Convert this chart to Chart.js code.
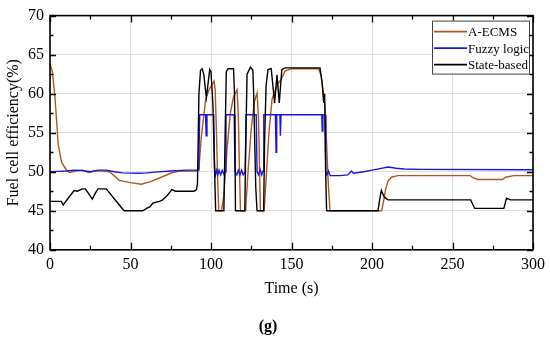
<!DOCTYPE html>
<html>
<head>
<meta charset="utf-8">
<script src="https://cdn.jsdelivr.net/npm/chart.js@4.4.1/dist/chart.umd.min.js"></script>
<style>
  html, body { margin: 0; padding: 0; background: #fff; }
  #wrap { width: 550px; height: 342px; }
</style>
</head>
<body>
<div id="wrap"><canvas id="effChart" width="550" height="342"></canvas></div>
<script>
// series labels
const seriesNames = ['A-ECMS', 'Fuzzy logic', 'State-based'];

// A-ECMS (time s, efficiency %)
const ecmsT = [0, 1.5, 3.1, 5.1, 7.2, 10.3, 12, 16, 20, 24, 28, 32, 37, 43, 50, 56.6, 62, 68, 76, 80, 91,
  92.5, 94, 96.7, 99, 101.9, 102.6, 103.4, 104.2, 104.8, 106.5, 108, 110, 112, 114, 116.2, 117, 117.7, 118.3,
  121.5, 123, 125, 127, 128.6, 129.5, 130.2, 130.7, 133, 134.5, 136, 137.9, 140, 142, 144, 146, 150, 167,
  168.5, 170.8, 172.8, 173.9, 206, 207, 208.5, 210, 212, 216, 261, 263, 266, 281, 283, 288, 300];
const ecmsV = [63.8, 62.8, 59.5, 53.5, 51.2, 50.2, 49.9, 50.1, 50.2, 49.9, 50.1, 50.1, 50, 48.9, 48.6, 48.4, 48.7, 49.2, 49.9, 50.05, 50.1,
  50.5, 54.5, 59.3, 60.6, 61.6, 60.5, 55, 48.5, 45, 45, 47, 53, 57.5, 59.6, 60.5, 57, 50, 45,
  45, 50, 55.5, 59, 60.1, 57, 50, 45, 45, 50, 55, 59.3, 60.5, 61.4, 62, 62.9, 63.2, 63.2,
  62.2, 58.4, 48.7, 45, 45, 46, 47.8, 48.8, 49.3, 49.5, 49.5, 49.2, 49.0, 49.0, 49.3, 49.5, 49.5];

// Fuzzy logic
const fuzzyT = [0, 5, 10, 15, 20, 25, 30, 35, 40, 45, 55, 60, 65, 75, 85, 92, 92.5, 93, 96.6, 97, 97.5, 101.7,
  102.2, 102.8, 103.5, 104.2, 105, 106, 107, 108, 108.8, 109.3, 114.4, 114.9, 116, 117, 118, 119, 120, 121.2,
  121.8, 128.1, 128.6, 129.5, 130.5, 131.5, 132.3, 132.8, 140, 140.4, 140.8, 142.8, 143.1, 143.5, 168.8,
  169.1, 169.5, 170.9, 171.3, 172, 173, 174, 180, 185, 187.2, 188.5, 195, 200, 205, 210, 215, 220, 230, 300];
const fuzzyV = [50, 50.05, 50.1, 50.2, 50.15, 50, 50.2, 50.2, 50, 49.85, 49.8, 49.85, 49.95, 50.1, 50.2, 50.2, 52, 57.3, 57.3, 54.6, 57.3, 57.3,
  50.5, 49.6, 50.2, 49.6, 50.2, 49.6, 50.2, 49.7, 50, 57.3, 57.3, 50, 49.6, 50.2, 49.6, 50.2, 49.6, 50,
  57.3, 57.3, 50, 49.6, 50.3, 49.6, 50.1, 57.3, 57.3, 52.5, 57.3, 57.3, 54.6, 57.3, 57.3,
  55.2, 57.3, 57.3, 50, 49.6, 50.1, 49.5, 49.5, 49.6, 50.1, 49.8, 50, 50.2, 50.4, 50.6, 50.45, 50.35, 50.3, 50.25];

// State-based
const stateT = [0, 7, 8.2, 12, 15, 17, 20, 22, 24, 26.3, 28, 29.8, 35, 40, 46, 57.6, 60, 62, 64, 68, 70, 73, 75.7, 78, 89.5,
  91, 91.6, 92.5, 93.5, 94.5, 95.5, 97.1, 98, 99.2, 100, 101.2, 102, 102.9, 108, 108.8, 109.5, 110.5, 114, 114.6, 115.2,
  121, 121.7, 122.4, 124.5, 126, 126.5, 127.8, 128.6, 132.7, 133.3, 134.2, 135.4, 137.4, 139.5, 141, 142.4, 144, 146,
  167.7, 169, 170, 170.6, 171.2, 171.8, 203.7, 204.8, 205.8, 207.5, 209.9, 261.3, 263.8, 281.9, 283.5, 286, 300];
const stateV = [46.2, 46.2, 45.75, 46.8, 47.6, 47.5, 47.8, 47.8, 47.2, 46.5, 47.2, 47.8, 47.8, 46.5, 45, 45, 45.3, 45.5, 46, 46.2, 46.4, 47, 47.7, 47.5, 47.5,
  47.7, 48.5, 60, 63, 63.2, 62.5, 59.5, 61, 63.1, 62.8, 58.5, 52, 45, 45, 55, 62.8, 63.2, 63.2, 60, 45,
  45, 55, 62.5, 63.4, 63, 60, 48, 45, 45, 54, 61, 63.1, 63.2, 58.8, 62.4, 58.8, 63.1, 63.3,
  63.3, 61.4, 58.8, 60, 50, 45, 45, 46.5, 47.6, 46.8, 46.4, 46.4, 45.3, 45.3, 46.6, 46.4, 46.4];

// axis ticks
const xTicks = [0, 50, 100, 150, 200, 250, 300];
const yTicks = [40, 45, 50, 55, 60, 65, 70];

const colors = ['#b0561f', '#1a14e6', '#000000'];
const serif = "'Liberation Serif', 'DejaVu Serif', serif";

function toPoints(ts, vs) {
    return ts.map((t, i) => ({ x: t, y: vs[i] }));
}

// frame with inward major/minor ticks on all four sides
const frameTicks = {
    id: 'frameTicks',
    afterDraw(chart) {
        const ctx = chart.ctx;
        const a = chart.chartArea;
        const xs = chart.scales.x, ys = chart.scales.y;
        ctx.save();
        ctx.strokeStyle = '#000';
        ctx.lineWidth = 1.3;
        for (let v = 0; v <= 300; v += 25) {
            const px = Math.round(xs.getPixelForValue(v)) + 0.5;
            const len = v % 50 === 0 ? 7 : 4;
            ctx.beginPath();
            ctx.moveTo(px, a.bottom); ctx.lineTo(px, a.bottom - len);
            ctx.moveTo(px, a.top); ctx.lineTo(px, a.top + len);
            ctx.stroke();
        }
        for (let v = 40; v <= 70; v += 2.5) {
            const py = Math.round(ys.getPixelForValue(v)) + 0.5;
            const len = v % 5 === 0 ? 6 : 3.5;
            ctx.beginPath();
            ctx.moveTo(a.left, py); ctx.lineTo(a.left + len, py);
            ctx.moveTo(a.right, py); ctx.lineTo(a.right - len, py);
            ctx.stroke();
        }
        ctx.lineWidth = 1.6;
        ctx.strokeRect(a.left, a.top, a.right - a.left, a.bottom - a.top);
        ctx.restore();
    }
};

// legend box inside the plot, top right
const insideLegend = {
    id: 'insideLegend',
    afterDraw(chart) {
        const ctx = chart.ctx;
        const a = chart.chartArea;
        const w = 97, h = 53;
        const x0 = a.right - 4 - w, y0 = a.top + 5;
        ctx.save();
        ctx.fillStyle = '#fff';
        ctx.fillRect(x0, y0, w, h);
        ctx.strokeStyle = '#444';
        ctx.lineWidth = 1;
        ctx.strokeRect(x0 + 0.5, y0 + 0.5, w, h);
        ctx.font = '13px ' + serif;
        ctx.textBaseline = 'middle';
        ctx.fillStyle = '#000';
        chart.data.datasets.forEach((ds, i) => {
            const cy = y0 + 11 + i * 16.5;
            ctx.strokeStyle = ds.borderColor;
            ctx.lineWidth = 1.6;
            ctx.beginPath();
            ctx.moveTo(x0 + 2, cy); ctx.lineTo(x0 + 35, cy);
            ctx.stroke();
            ctx.fillText(ds.label, x0 + 36, cy + 1);
        });
        ctx.restore();
    }
};

const ctx = document.getElementById('effChart').getContext('2d');
new Chart(ctx, {
    type: 'line',
    data: {
        datasets: [
            { label: seriesNames[0], data: toPoints(ecmsT, ecmsV), borderColor: colors[0], order: 3 },
            { label: seriesNames[1], data: toPoints(fuzzyT, fuzzyV), borderColor: colors[1], order: 2 },
            { label: seriesNames[2], data: toPoints(stateT, stateV), borderColor: colors[2], order: 1 }
        ].map(d => Object.assign(d, { borderWidth: 1.4, pointRadius: 0, tension: 0, fill: false }))
    },
    options: {
        responsive: false,
        animation: false,
        layout: { padding: { top: 14, right: 14, left: 0, bottom: 0 } },
        plugins: {
            legend: { display: false },
            tooltip: { enabled: false },
            title: {
                display: true,
                position: 'bottom',
                text: '(g)',
                color: '#000',
                font: { family: serif, size: 16, weight: 'bold' },
                padding: { top: 7, bottom: 6 }
            }
        },
        scales: {
            x: {
                type: 'linear',
                min: 0, max: 300,
                afterBuildTicks: s => { s.ticks = xTicks.map(v => ({ value: v })); },
                afterFit: s => { s.height = 60; },
                grid: { color: '#dedede', lineWidth: 1, drawTicks: false },
                border: { display: false },
                ticks: { color: '#000', padding: 5, maxRotation: 0, font: { family: serif, size: 16 } },
                title: {
                    display: true, text: 'Time (s)', color: '#000',
                    font: { family: serif, size: 16 },
                    padding: { top: 4, bottom: 11 }
                }
            },
            y: {
                min: 40, max: 70,
                afterBuildTicks: s => { s.ticks = yTicks.map(v => ({ value: v })); },
                afterFit: s => { s.width = 50; },
                grid: { color: '#dedede', lineWidth: 1, drawTicks: false },
                border: { display: false },
                ticks: { color: '#000', padding: 6, font: { family: serif, size: 16 } },
                title: {
                    display: true, text: 'Fuel cell efficiency(%)', color: '#000',
                    font: { family: serif, size: 16 },
                    padding: { top: 4, bottom: 0 }
                }
            }
        }
    },
    plugins: [frameTicks, insideLegend]
});
</script>
</body>
</html>
